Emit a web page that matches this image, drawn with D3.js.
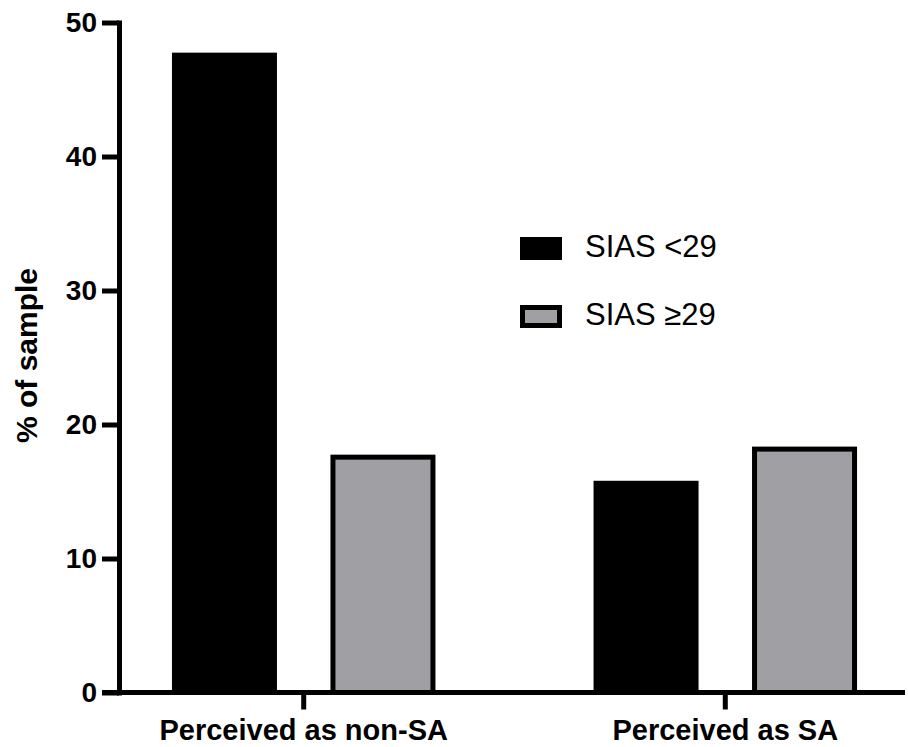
<!DOCTYPE html>
<html>
<head>
<meta charset="utf-8">
<script src="https://cdn.jsdelivr.net/npm/d3@7"></script>
<style>
  html, body { margin: 0; padding: 0; background: #fff; }
  svg { display: block; font-family: Arial, "Liberation Sans", Helvetica, sans-serif; }
</style>
</head>
<body>
<svg id="chart" width="908" height="747"></svg>
<script>
const categories = ["Perceived as non-SA", "Perceived as SA"];
const series = ["SIAS <29", "SIAS \u226529"];
const lowSIAS = [47.75, 15.8];
const highSIAS = [17.75, 18.35];
const yTicks = [0, 10, 20, 30, 40, 50];
const seriesColors = ["#000000", "#a0a0a4"];

const svg = d3.select("#chart");

const y = d3.scaleLinear().domain([0, 50]).range([692.5, 22.5]);
const x0 = d3.scaleBand().domain(categories).range([118, 911]).paddingInner(0.375).paddingOuter(0.128);
const x1 = d3.scaleBand().domain(series).range([0, x0.bandwidth()]).paddingInner(0.3375);
const color = d3.scaleOrdinal().domain(series).range(seriesColors);

const rows = [];
categories.forEach((c, i) => {
  rows.push({ cat: c, s: series[0], v: lowSIAS[i] });
  rows.push({ cat: c, s: series[1], v: highSIAS[i] });
});

// bars
const sw = 5;
svg.append("g").selectAll("rect").data(rows).join("rect")
  .attr("x", d => x0(d.cat) + x1(d.s) + sw / 2)
  .attr("y", d => y(d.v) + sw / 2)
  .attr("width", x1.bandwidth() - sw)
  .attr("height", d => y(0) - y(d.v) - sw / 2)
  .attr("fill", d => color(d.s))
  .attr("stroke", "#000")
  .attr("stroke-width", sw);

// y axis
const yAxis = svg.append("g").attr("transform", "translate(119,0)")
  .call(d3.axisLeft(y).tickValues(yTicks).tickSize(17).tickSizeOuter(0).tickPadding(5));
yAxis.select(".domain").attr("stroke", "#000").attr("stroke-width", 5).attr("stroke-linecap", "square");
yAxis.selectAll(".tick line").attr("stroke", "#000").attr("stroke-width", 5);
yAxis.selectAll(".tick text").attr("fill", "#000")
  .style("font-size", "28px").style("font-weight", "bold")
  .attr("font-family", null);

// x axis
const xAxis = svg.append("g").attr("transform", `translate(0,${y(0)})`)
  .call(d3.axisBottom(x0).tickSize(17).tickSizeOuter(0));
xAxis.select(".domain").remove();
xAxis.selectAll(".tick line").attr("stroke", "#000").attr("stroke-width", 5);
xAxis.selectAll(".tick text").attr("fill", "#000")
  .attr("y", 47.5).attr("dy", null)
  .style("font-size", "29px").style("font-weight", "bold")
  .attr("font-family", null);
xAxis.append("line")
  .attr("x1", 102).attr("x2", 905).attr("y1", 0).attr("y2", 0)
  .attr("stroke", "#000").attr("stroke-width", 5);

// y title
svg.append("text")
  .attr("transform", `translate(37,${(y(0) + y(50)) / 2 - 2}) rotate(-90)`)
  .attr("text-anchor", "middle")
  .style("font-size", "30px").style("font-weight", "bold")
  .text("% of sample");

// legend
const legend = svg.append("g").selectAll("g").data(series).join("g")
  .attr("transform", (d, i) => `translate(520,${237 + i * 68})`);
legend.append("rect")
  .attr("x", sw / 2).attr("y", sw / 2)
  .attr("width", 42 - sw).attr("height", 23 - sw)
  .attr("fill", d => color(d))
  .attr("stroke", "#000").attr("stroke-width", sw);
legend.append("text")
  .attr("x", 65).attr("y", 20)
  .style("font-size", "31px")
  .text(d => d);
</script>
</body>
</html>
